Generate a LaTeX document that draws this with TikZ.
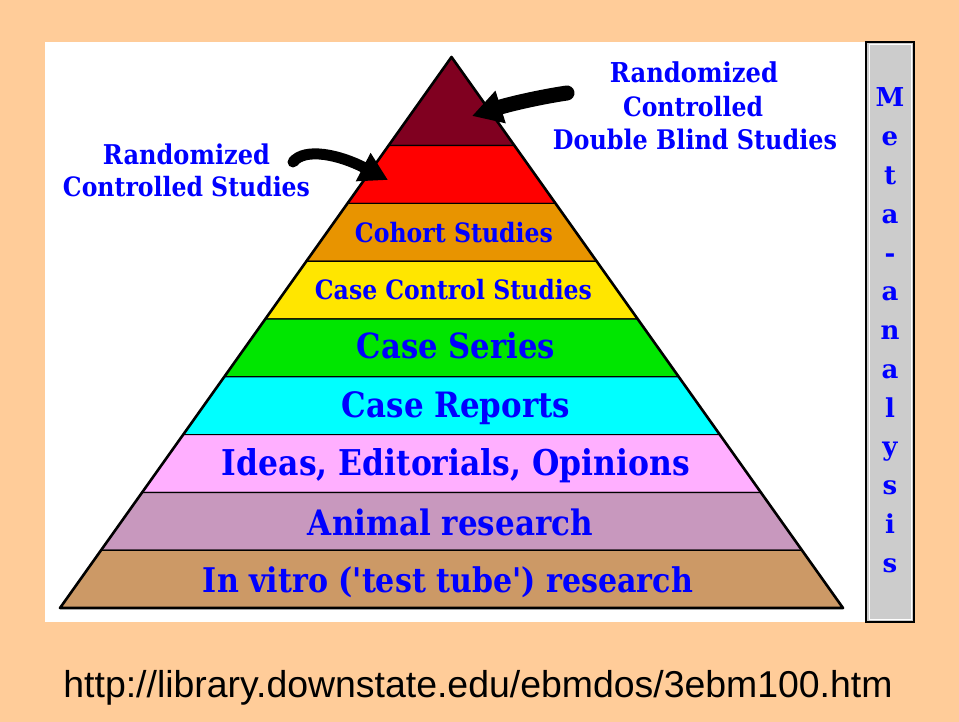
\documentclass[tikz,border=0pt]{standalone}
\usepackage{fontspec}
\usepackage{graphicx}
\usetikzlibrary{arrows.meta}
\setmainfont{DejaVu Serif}
\newfontfamily\urlfont{Liberation Sans}

\definecolor{pagebg}{RGB}{255,204,153}
\definecolor{metabg}{RGB}{204,204,204}
\definecolor{labelblue}{RGB}{0,0,255}
\definecolor{tierA}{RGB}{128,0,32}
\definecolor{tierB}{RGB}{255,0,0}
\definecolor{tierC}{RGB}{232,148,0}
\definecolor{tierD}{RGB}{255,230,0}
\definecolor{tierE}{RGB}{0,230,0}
\definecolor{tierF}{RGB}{0,255,255}
\definecolor{tierG}{RGB}{255,175,255}
\definecolor{tierH}{RGB}{200,152,190}
\definecolor{tierI}{RGB}{204,153,102}

% scale a label to a given printed width, slightly taller than the font's own shape
\newcommand{\fitw}[2]{\scalebox{1}[1.13]{\resizebox{#1}{!}{#2}}}

\tikzset{
  tierlabel/.style={anchor=base, text=labelblue, font=\bfseries, inner sep=0pt},
  sidelabel/.style={anchor=base, text=labelblue, font=\bfseries, inner sep=0pt},
  metaletter/.style={anchor=base, text=labelblue, font=\bfseries\fontsize{26}{26}\selectfont, inner sep=0pt},
  bandedge/.style={draw=black, line width=1.2pt},
  pointer/.style={line width=#1, line cap=round, draw=black},
}

\begin{document}
\begin{tikzpicture}[x=1pt, y=-1pt]
\useasboundingbox (0,0) rectangle (959,722);
\fill[pagebg] (0,0) rectangle (959,722);

% white panel and the grey side bar
\fill[white] (45,42) rectangle (866,622);
\filldraw[fill=metabg, draw=black, line width=1.6pt] (866,42) rectangle (914,622);
\draw[white, line width=1pt] (869,45) rectangle (911,619);

% pyramid corners
\coordinate (apex) at (451.5,57);
\coordinate (bl) at (60,608);
\coordinate (br) at (843,608);

% bands, top to bottom (half width grows 0.710526 per unit of depth)
\foreach \ya/\yb/\col in {57/145.6/tierA, 145.6/203.4/tierB, 203.4/261.2/tierC,
    261.2/319/tierD, 319/376.8/tierE, 376.8/434.6/tierF, 434.6/492.4/tierG,
    492.4/550.2/tierH, 550.2/608/tierI}{
  \pgfmathsetmacro\wa{(\ya-57)*0.710526}
  \pgfmathsetmacro\wb{(\yb-57)*0.710526}
  \filldraw[fill=\col, bandedge] (451.5-\wa,\ya) -- (451.5+\wa,\ya)
     -- (451.5+\wb,\yb) -- (451.5-\wb,\yb) -- cycle;
}
\draw[line width=2.6pt, line join=round] (apex) -- (bl) -- (br) -- cycle;

% band labels
\node[tierlabel] (cohort)  at (454,243)   {\fitw{198pt}{Cohort Studies}};
\node[tierlabel] (casectl) at (453.5,300) {\fitw{277pt}{Case Control Studies}};
\node[tierlabel] (series)  at (456,358)   {\fitw{198pt}{Case Series}};
\node[tierlabel] (reports) at (456,417)   {\fitw{228pt}{Case Reports}};
\node[tierlabel] (ideas)   at (456,475)   {\fitw{468pt}{Ideas, Editorials, Opinions}};
\node[tierlabel] (animal)  at (450.5,535) {\fitw{285pt}{Animal research}};
\node[tierlabel] (vitro)   at (448,592)   {\fitw{490pt}{In vitro (\textquotesingle test tube\textquotesingle) research}};

% labels beside the apex
\node[sidelabel] (rcs1) at (186.5,165) {\fitw{167pt}{Randomized}};
\node[sidelabel] (rcs2) at (186.5,197) {\fitw{247pt}{Controlled Studies}};
\node[sidelabel] (db1) at (694,83)  {\fitw{168pt}{Randomized}};
\node[sidelabel] (db2) at (693,117) {\fitw{140pt}{Controlled}};
\node[sidelabel] (db3) at (695,150) {\fitw{284pt}{Double Blind Studies}};

% pointers into the two top bands
\coordinate (rcs-tail) at (293,162);
\coordinate (rcs-tip)  at (388,180);
\coordinate (db-tail)  at (567,93);
\coordinate (db-tip)   at (472,116);
\draw[pointer=11pt, -{Triangle[length=28pt,width=30pt]}]
  (rcs-tail) .. controls (305,147) and (340,155) .. (rcs-tip);
\draw[pointer=15pt, -{Triangle[length=30pt,width=32pt]}]
  (db-tail) .. controls (540,97) and (510,104) .. (db-tip);

% vertical side-bar caption
\foreach \ch [count=\i from 0] in {M,e,t,a,-,a,n,a,l,y,s,i,s}{
  \node[metaletter] (meta-\i) at (890,107+38.75*\i) {\ch};
}

% source address
\node[anchor=base, inner sep=0pt] (source) at (478,697)
  {\resizebox{829pt}{!}{\urlfont http://library.downstate.edu/ebmdos/3ebm100.htm}};
\end{tikzpicture}
\end{document}
